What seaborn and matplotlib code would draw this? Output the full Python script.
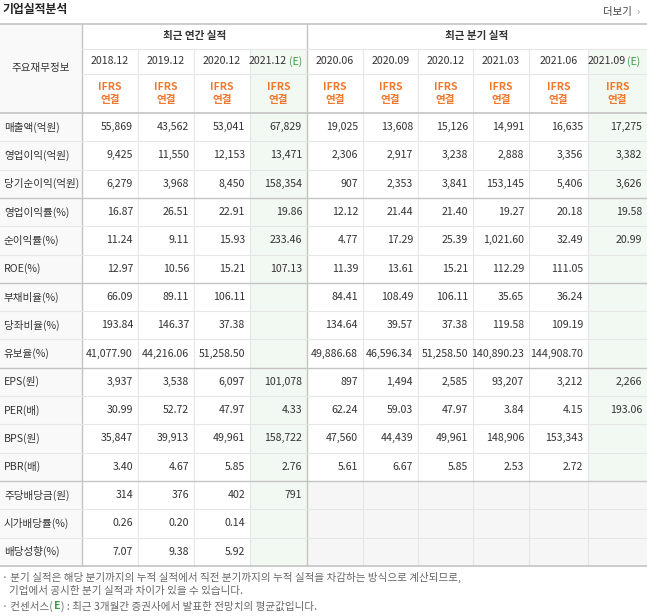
import matplotlib
matplotlib.use("Agg")
import matplotlib.pyplot as plt
from matplotlib.patches import Rectangle
import seaborn as sns

sns.set_style("white")
plt.rcParams["font.family"] = "Noto Sans CJK KR"

row_labels = ["매출액(억원)", "영업이익(억원)", "당기순이익(억원)", "영업이익률(%)", "순이익률(%)", "ROE(%)",
              "부채비율(%)", "당좌비율(%)", "유보율(%)", "EPS(원)", "PER(배)", "BPS(원)", "PBR(배)",
              "주당배당금(원)", "시가배당률(%)", "배당성향(%)"]
periods = ["2018.12", "2019.12", "2020.12", "2021.12", "2020.06", "2020.09", "2020.12", "2021.03", "2021.06", "2021.09"]
estimate = [False, False, False, True, False, False, False, False, False, True]
values = [
    ["55,869", "43,562", "53,041", "67,829", "19,025", "13,608", "15,126", "14,991", "16,635", "17,275"],
    ["9,425", "11,550", "12,153", "13,471", "2,306", "2,917", "3,238", "2,888", "3,356", "3,382"],
    ["6,279", "3,968", "8,450", "158,354", "907", "2,353", "3,841", "153,145", "5,406", "3,626"],
    ["16.87", "26.51", "22.91", "19.86", "12.12", "21.44", "21.40", "19.27", "20.18", "19.58"],
    ["11.24", "9.11", "15.93", "233.46", "4.77", "17.29", "25.39", "1,021.60", "32.49", "20.99"],
    ["12.97", "10.56", "15.21", "107.13", "11.39", "13.61", "15.21", "112.29", "111.05", ""],
    ["66.09", "89.11", "106.11", "", "84.41", "108.49", "106.11", "35.65", "36.24", ""],
    ["193.84", "146.37", "37.38", "", "134.64", "39.57", "37.38", "119.58", "109.19", ""],
    ["41,077.90", "44,216.06", "51,258.50", "", "49,886.68", "46,596.34", "51,258.50", "140,890.23", "144,908.70", ""],
    ["3,937", "3,538", "6,097", "101,078", "897", "1,494", "2,585", "93,207", "3,212", "2,266"],
    ["30.99", "52.72", "47.97", "4.33", "62.24", "59.03", "47.97", "3.84", "4.15", "193.06"],
    ["35,847", "39,913", "49,961", "158,722", "47,560", "44,439", "49,961", "148,906", "153,343", ""],
    ["3.40", "4.67", "5.85", "2.76", "5.61", "6.67", "5.85", "2.53", "2.72", ""],
    ["314", "376", "402", "791", "", "", "", "", "", ""],
    ["0.26", "0.20", "0.14", "", "", "", "", "", "", ""],
    ["7.07", "9.38", "5.92", "", "", "", "", "", "", ""],
]

W, H = 647, 616
fig = plt.figure(figsize=(W / 100, H / 100), dpi=100)
ax = fig.add_axes([0, 0, 1, 1])
ax.set_xlim(0, W); ax.set_ylim(H, 0); ax.axis("off")

xs = [0, 82, 138, 194, 250, 307, 363, 418, 473, 529, 588, 647]
top, h1, h2, h3 = 24, 49, 74, 113
rh = 28.3
bottom = h3 + rh * len(row_labels)
txt = "#333333"; lc = "#e6e6e6"; dk = "#c4c4c4"
green = "#f2f8f2"; gray = "#f9f9f9"

ax.add_patch(Rectangle((0, top), 82, bottom - top, color=gray, lw=0))
for j, est in enumerate(estimate):
    x0, x1 = xs[j + 1], xs[j + 2]
    if est:
        ax.add_patch(Rectangle((x0, h1), x1 - x0, bottom - h1, color=green, lw=0))
for i in range(13, 16):
    ax.add_patch(Rectangle((xs[5], h3 + rh * i), W - xs[5], rh, color="#f6f6f6", lw=0))

for j in range(2, 11):
    if j == 5:
        continue
    ax.plot([xs[j], xs[j]], [h1, bottom], color=lc, lw=0.8)
for x in (82, 307):
    ax.plot([x, x], [top, bottom], color=dk, lw=1)
ax.plot([82, W], [h1, h1], color=lc, lw=0.8)
ax.plot([82, W], [h2, h2], color=lc, lw=0.8)
for i in range(1, 16):
    y = h3 + rh * i
    major = i in (3, 6, 9, 13)
    ax.plot([0, W], [y, y], color=dk if major else lc, lw=1 if major else 0.8)
for y in (top, h3, bottom):
    ax.plot([0, W], [y, y], color=dk, lw=1.2)

fs = 7.6
ax.text(2, 10, "기업실적분석", fontsize=8.5, fontweight="bold", color="#222", va="center")
ax.text(632, 12, "더보기", fontsize=7.5, color="#444", va="center", ha="right")
ax.text(638, 12, "›", fontsize=7.5, color="#999", va="center", ha="center")
ax.text(41, (top + h3) / 2, "주요재무정보", fontsize=fs, color=txt, ha="center", va="center")
ax.text((82 + 307) / 2, (top + h1) / 2, "최근 연간 실적", fontsize=fs, color=txt, ha="center", va="center", fontweight="bold")
ax.text((307 + W) / 2, (top + h1) / 2, "최근 분기 실적", fontsize=fs, color=txt, ha="center", va="center", fontweight="bold")

for j, (p, est) in enumerate(zip(periods, estimate)):
    cx = (xs[j + 1] + xs[j + 2]) / 2
    cy = (h1 + h2) / 2
    if est:
        ax.text(cx + 8, cy, p, fontsize=fs, color=txt, ha="right", va="center")
        ax.text(cx + 10, cy, "(E)", fontsize=fs, color="#3a9a4a", ha="left", va="center")
    else:
        ax.text(cx, cy, p, fontsize=fs, color=txt, ha="center", va="center")
    ax.text(cx, (h2 + h3) / 2, "IFRS\n연결", fontsize=fs, color="#f0782d", ha="center", va="center",
            fontweight="bold", linespacing=1.25)

for i, lab in enumerate(row_labels):
    cy = h3 + rh * (i + 0.5)
    ax.text(4, cy, lab, fontsize=fs, color=txt, va="center")
    for j, v in enumerate(values[i]):
        if v:
            ax.text(xs[j + 2] - 5, cy, v, fontsize=fs, color=txt, va="center", ha="right")

nfs = 7.6
ax.text(2, 577, "· 분기 실적은 해당 분기까지의 누적 실적에서 직전 분기까지의 누적 실적을 차감하는 방식으로 계산되므로,",
        fontsize=nfs, color="#666", va="center")
ax.text(9, 591, "기업에서 공시한 분기 실적과 차이가 있을 수 있습니다.", fontsize=nfs, color="#666", va="center")
t1 = ax.text(2, 606, "· 컨센서스(", fontsize=nfs, color="#666", va="center")
fig.canvas.draw()
x1 = t1.get_window_extent().x1 + 1
t2 = ax.text(x1, 606, "E", fontsize=nfs, color="#3a9a4a", va="center", fontweight="bold")
fig.canvas.draw()
x2 = t2.get_window_extent().x1 + 1
ax.text(x2, 606, ") : 최근 3개월간 증권사에서 발표한 전망치의 평균값입니다.", fontsize=nfs, color="#666", va="center")

fig.savefig("out.png", dpi=100)
